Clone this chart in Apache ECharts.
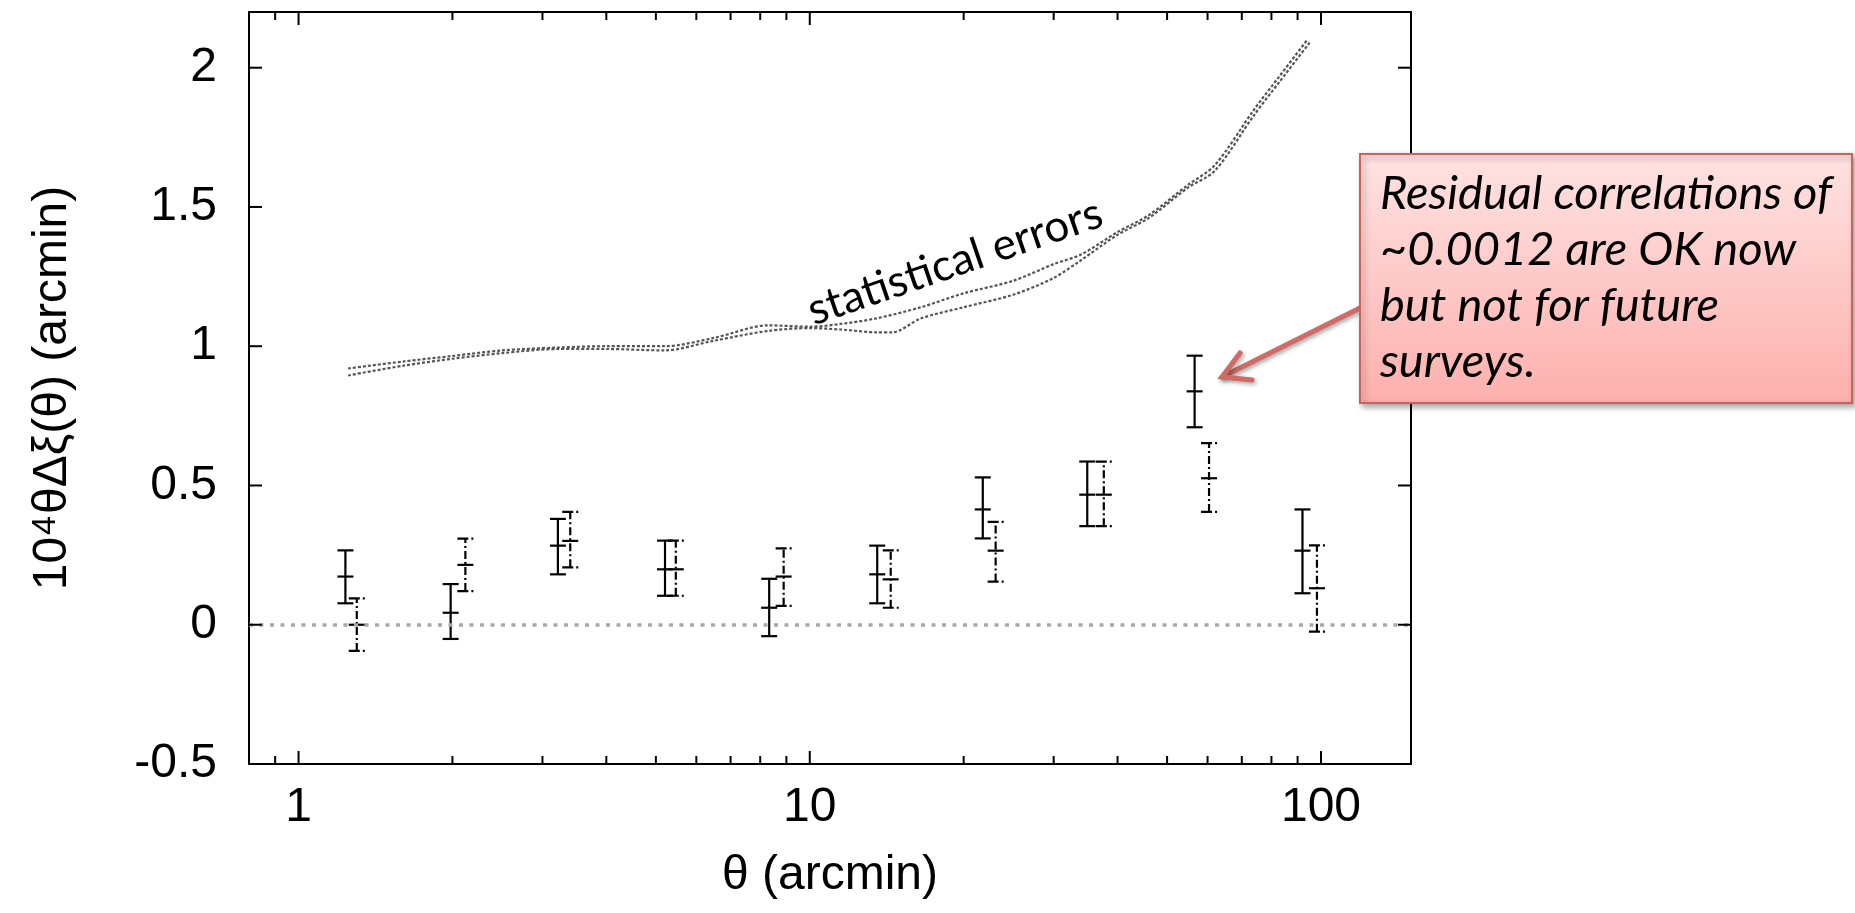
<!DOCTYPE html>
<html>
<head>
<meta charset="utf-8">
<script src="https://cdn.jsdelivr.net/npm/echarts@6/dist/echarts.min.js"></script>
<style>
html,body{margin:0;padding:0;background:#fff;}
#chart{width:1855px;height:913px;}
</style>
</head>
<body>
<div id="chart"></div>
<script>
// ---- data ----
// series 1 (solid error bars): theta, value, lower, upper
const solidTheta = [1.235, 1.984, 3.216, 5.21, 8.33, 13.55, 21.8, 34.9, 56.6, 92.0];
const solidValue = [0.173, 0.043, 0.284, 0.199, 0.061, 0.181, 0.414, 0.467, 0.838, 0.266];
const solidLow   = [0.077, -0.051, 0.181, 0.104, -0.041, 0.077, 0.310, 0.354, 0.709, 0.113];
const solidHigh  = [0.267, 0.146, 0.380, 0.302, 0.165, 0.284, 0.529, 0.586, 0.966, 0.414];
// series 2 (dash-dot error bars)
const dashTheta = [1.30, 2.12, 3.40, 5.47, 8.89, 14.4, 23.1, 37.6, 60.4, 98.2];
const dashValue = [0.000, 0.215, 0.301, 0.199, 0.173, 0.163, 0.266, 0.467, 0.526, 0.131];
const dashLow   = [-0.094, 0.121, 0.206, 0.104, 0.068, 0.061, 0.155, 0.354, 0.405, -0.025];
const dashHigh  = [0.095, 0.309, 0.405, 0.302, 0.274, 0.267, 0.369, 0.586, 0.652, 0.285];
// statistical error curves
const curveATheta = [1.25, 1.6, 2, 2.5, 3.2, 4, 5.2, 6.5, 8.3, 10, 11.5, 13.5, 16.5, 20, 25, 30, 34, 40, 46, 55, 62, 74, 83, 94];
const curveAValue = [0.92, 0.945, 0.965, 0.985, 0.995, 1.0, 1.0, 1.03, 1.075, 1.07, 1.08, 1.10, 1.14, 1.19, 1.235, 1.295, 1.33, 1.41, 1.47, 1.58, 1.65, 1.85, 1.97, 2.10];
const curveBTheta = [1.25, 1.6, 2, 2.5, 3.2, 4, 5.2, 6.5, 8.3, 10, 11.5, 13.5, 14.5, 16.5, 20, 25, 30, 34, 40, 46, 55, 62, 74, 83, 95];
const curveBValue = [0.895, 0.93, 0.955, 0.975, 0.99, 0.99, 0.985, 1.02, 1.055, 1.065, 1.06, 1.05, 1.05, 1.10, 1.14, 1.185, 1.245, 1.31, 1.40, 1.46, 1.57, 1.63, 1.83, 1.95, 2.09];
// ticks
const xMajorTicks = [1, 10, 100];
const xMinorTicks = [0.9, 2, 3, 4, 5, 6, 7, 8, 9, 20, 30, 40, 50, 60, 70, 80, 90];
const yTicks = [-0.5, 0, 0.5, 1, 1.5, 2];
const xLabels = [1, 10, 100];

const LABEL_FONT = 'Liberation Sans';
const NOTE_FONT = 'Lato';

function zip4(a, b, c, d) { return a.map((v, i) => [v, b[i], c[i], d[i]]); }
function zip2(a, b) { return a.map((v, i) => [v, b[i]]); }

function errorBarRenderer(dashed) {
  return function (params, api) {
    const x = api.value(0), v = api.value(1), lo = api.value(2), hi = api.value(3);
    const p = api.coord([x, v]);
    const pl = api.coord([x, lo]);
    const ph = api.coord([x, hi]);
    const half = 8;
    const st = { stroke: '#000', lineWidth: 2.2, fill: null };
    const dst = dashed ? Object.assign({}, st, { lineDash: [8, 3, 2, 3] }) : st;
    const capSt = dashed ? Object.assign({}, st, { lineDash: [11, 3, 2, 20] }) : st;
    return {
      type: 'group',
      children: [
        { type: 'line', shape: { x1: pl[0], y1: pl[1], x2: ph[0], y2: ph[1] }, style: dst },
        { type: 'line', shape: { x1: pl[0] - half, y1: pl[1], x2: pl[0] + half, y2: pl[1] }, style: capSt },
        { type: 'line', shape: { x1: ph[0] - half, y1: ph[1], x2: ph[0] + half, y2: ph[1] }, style: capSt },
        { type: 'line', shape: { x1: p[0] - half, y1: p[1], x2: p[0] + half, y2: p[1] }, style: st }
      ]
    };
  };
}

const chart = echarts.init(document.getElementById('chart'), null, { renderer: 'canvas' });

const option = {
  animation: false,
  backgroundColor: '#ffffff',
  grid: {
    left: 249, top: 12, right: 444, bottom: 149,
    show: true, borderColor: '#000', borderWidth: 2, backgroundColor: 'transparent'
  },
  xAxis: {
    type: 'log', logBase: 10, min: 0.8, max: 150,
    axisLine: { show: false }, axisTick: { show: false }, splitLine: { show: false },
    minorTick: { show: false }, minorSplitLine: { show: false },
    axisLabel: {
      margin: 20, fontSize: 48, fontFamily: LABEL_FONT, color: '#000',
      showMinLabel: false, showMaxLabel: false,
      formatter: v => (xLabels.some(t => Math.abs(t - v) / t < 1e-6) ? String(Math.round(v)) : '')
    },
    name: 'θ (arcmin)', nameLocation: 'middle', nameGap: 88,
    nameTextStyle: { fontSize: 48, fontFamily: LABEL_FONT, color: '#000' }
  },
  yAxis: {
    type: 'value', min: -0.5, max: 2.2, interval: 0.5,
    axisLine: { show: false }, axisTick: { show: false }, splitLine: { show: false },
    axisLabel: {
      margin: 32, fontSize: 48, fontFamily: LABEL_FONT, color: '#000',
      showMaxLabel: false,
      formatter: v => (yTicks.some(t => Math.abs(t - v) < 1e-6) ? String(v) : '')
    },
    name: '10{sup|4}θΔξ(θ) (arcmin)', nameLocation: 'middle', nameGap: 172, nameRotate: 90,
    nameTextStyle: {
      fontSize: 48, fontFamily: LABEL_FONT, color: '#000',
      rich: { sup: { fontSize: 34, fontFamily: LABEL_FONT, color: '#000', verticalAlign: 'top', padding: [0, 2, 14, 2] } }
    }
  },
  series: [
    {
      name: 'xticks', type: 'custom', silent: true, z: 5,
      data: xMajorTicks.map(v => [v, 0, 13]).concat(xMinorTicks.map(v => [v, 0, 8])),
      renderItem: (params, api) => {
        const pt = api.coord([api.value(0), 0]);
        const len = api.value(2);
        const cs = params.coordSys;
        const st = { stroke: '#000', lineWidth: 2 };
        return { type: 'group', children: [
          { type: 'line', shape: { x1: pt[0], y1: cs.y + cs.height, x2: pt[0], y2: cs.y + cs.height - len }, style: st },
          { type: 'line', shape: { x1: pt[0], y1: cs.y, x2: pt[0], y2: cs.y + len }, style: st }
        ]};
      }
    },
    {
      name: 'yticks', type: 'custom', silent: true, z: 5,
      data: yTicks.map(v => [1, v]),
      renderItem: (params, api) => {
        const pt = api.coord([1, api.value(1)]);
        const cs = params.coordSys;
        const st = { stroke: '#000', lineWidth: 2 };
        return { type: 'group', children: [
          { type: 'line', shape: { x1: cs.x, y1: pt[1], x2: cs.x + 13, y2: pt[1] }, style: st },
          { type: 'line', shape: { x1: cs.x + cs.width, y1: pt[1], x2: cs.x + cs.width - 13, y2: pt[1] }, style: st }
        ]};
      }
    },
    {
      name: 'zero', type: 'line', data: [], silent: true,
      markLine: {
        silent: true, symbol: ['none', 'none'], label: { show: false },
        lineStyle: { color: '#a8a8a8', width: 3.5, type: [4, 6.5] },
        data: [{ yAxis: 0 }]
      }
    },
    {
      name: 'stat A', type: 'line', data: zip2(curveATheta, curveAValue), showSymbol: false, smooth: 0.3,
      lineStyle: { color: '#555', width: 2.2, type: [3, 2] }, silent: true
    },
    {
      name: 'stat B', type: 'line', data: zip2(curveBTheta, curveBValue), showSymbol: false, smooth: 0.3,
      lineStyle: { color: '#555', width: 2.2, type: [3, 2] }, silent: true
    },
    {
      name: 'solid', type: 'custom', z: 4, silent: true,
      data: zip4(solidTheta, solidValue, solidLow, solidHigh),
      renderItem: errorBarRenderer(false)
    },
    {
      name: 'dashdot', type: 'custom', z: 4, silent: true,
      data: zip4(dashTheta, dashValue, dashLow, dashHigh),
      renderItem: errorBarRenderer(true)
    }
  ],
  graphic: [
    {
      type: 'text', x: 955, y: 262, rotation: 19 * Math.PI / 180, z: 10,
      style: { text: 'statistical errors', font: '44px ' + NOTE_FONT, fill: '#000', align: 'center', verticalAlign: 'middle' }
    },
    // arrow (behind the box)
    {
      type: 'group', z: 20,
      children: [
        { type: 'line', shape: { x1: 1380, y1: 298, x2: 1222, y2: 377 },
          style: { stroke: '#cf6a66', lineWidth: 5, lineCap: 'round', shadowBlur: 4, shadowColor: 'rgba(0,0,0,0.35)', shadowOffsetX: 2, shadowOffsetY: 2 } },
        { type: 'polyline', shape: { points: [[1240, 353], [1222, 377], [1252, 380]] },
          style: { stroke: '#cf6a66', lineWidth: 5, lineCap: 'round', lineJoin: 'miter', fill: null, shadowBlur: 4, shadowColor: 'rgba(0,0,0,0.35)', shadowOffsetX: 2, shadowOffsetY: 2 } }
      ]
    },
    {
      type: 'rect', z: 30,
      shape: { x: 1360, y: 154, width: 492, height: 249 },
      style: {
        fill: { type: 'linear', x: 0, y: 0, x2: 0, y2: 1, colorStops: [{ offset: 0, color: '#fee3e2' }, { offset: 1, color: '#fdb0ad' }] },
        stroke: '#d0605b', lineWidth: 2,
        shadowBlur: 6, shadowColor: 'rgba(0,0,0,0.35)', shadowOffsetX: 3, shadowOffsetY: 3
      }
    },
    {
      type: 'text', z: 31, x: 1380, y: 166,
      style: {
        text: 'Residual correlations of\n~0.0012 are OK now\nbut not for future\nsurveys.',
        font: 'italic 47px ' + NOTE_FONT, fill: '#000', lineHeight: 56, align: 'left', verticalAlign: 'top'
      }
    }
  ]
};
chart.setOption(option);
</script>
</body>
</html>
